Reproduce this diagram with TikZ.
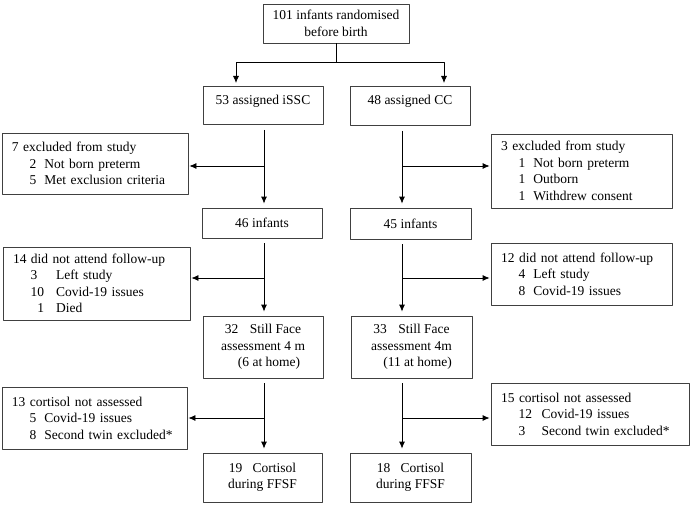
\documentclass[tikz,border=0pt]{standalone}
\usepackage{fontspec}
\setmainfont{Liberation Serif}
\usetikzlibrary{arrows.meta}
\newcommand{\reason}[3][1.1em]{\hspace*{1.3em}\makebox[#1][l]{#2}#3}
\begin{document}
\begin{tikzpicture}[x=1pt,y=-1pt,>={Latex[length=7pt,width=6pt]},line join=round,line width=0.8pt,
	font=\fontsize{13.5}{16.5}\selectfont,
	box/.style={draw=black!75,inner sep=0pt,align=center},
	side/.style={draw=black!75,inner xsep=10pt,inner ysep=0pt,align=left},
	link/.style={->,shorten <=5pt,shorten >=4pt},
	branch/.style={->,shorten >=1pt}]
	\useasboundingbox (0,0) rectangle (693,508);
	\node[box,minimum width=146pt,minimum height=39pt] (rand) at (336,23.5) {101 infants randomised\\before birth};
	\node[box,minimum width=120pt,text height=18pt,text depth=20pt,anchor=north] (issc) at (263,86) {53 assigned iSSC};
	\node[box,minimum width=120pt,text height=18pt,text depth=21pt,anchor=north] (cc) at (410,86) {48 assigned CC};
	\node[box,minimum width=120pt,minimum height=30pt] (inf46) at (262,223) {46 infants};
	\node[box,minimum width=121pt,minimum height=31pt] (inf45) at (410.5,223.5) {45 infants};
	\node[box,minimum width=120pt,minimum height=62pt] (face1) at (263,347) {32\hspace{0.6em} Still Face\\assessment 4 m\\\hspace*{0.9em}(6 at home)};
	\node[box,minimum width=121pt,minimum height=62pt] (face2) at (411.5,347) {33\hspace{0.6em} Still Face\\assessment 4m\\\hspace*{0.9em}(11 at home)};
	\node[box,minimum width=119pt,minimum height=49pt] (cort1) at (262.5,477.5) {19\hspace{0.5em} Cortisol\\during FFSF};
	\node[box,minimum width=121pt,minimum height=49pt] (cort2) at (410.5,477.5) {18\hspace{0.5em} Cortisol\\during FFSF};
	\node[side,text width=166pt,minimum height=61pt] (excl1) at (95,163.5) {7 excluded from study\\\reason{2}{Not born preterm}\\\reason{5}{Met exclusion criteria}};
	\node[side,text width=167pt,minimum height=73pt] (lost1) at (96.5,283.5) {14 did not attend follow-up\\\reason[1.9em]{3}{Left study}\\\reason[1.9em]{10}{Covid-19 issues}\\\reason[1.9em]{\hspace*{0.5em}1}{Died}};
	\node[side,text width=165pt,minimum height=62pt] (miss1) at (94.5,418) {13 cortisol not assessed\\\reason{5}{Covid-19 issues}\\\reason{8}{Second twin excluded*}};
	\node[side,text width=161pt,minimum height=74pt] (excl2) at (581.5,171) {3 excluded from study\\\reason{1}{Not born preterm}\\\reason{1}{Outborn}\\\reason{1}{Withdrew consent}};
	\node[side,text width=161pt,minimum height=62pt] (lost2) at (581.5,274) {12 did not attend follow-up\\\reason{4}{Left study}\\\reason{8}{Covid-19 issues}};
	\node[side,text width=178pt,minimum height=62pt] (miss2) at (590,414) {15 cortisol not assessed\\\reason[1.7em]{12}{Covid-19 issues}\\\reason[1.7em]{3}{Second twin excluded*}};
	\coordinate (splitL) at (236,62);
	\coordinate (splitR) at (444,62);
	\coordinate (colL) at (264,0);
	\coordinate (colR) at (402,0);
	\coordinate (b1) at (0,166);
	\coordinate (b2) at (0,278);
	\coordinate (b3) at (0,418);
	\draw (rand.south) -- (rand.south |- splitL);
	\draw[<->,shorten <=3pt,shorten >=3pt] (splitL |- issc.north) -- (splitL) -- (splitR) -- (splitR |- cc.north);
	\draw[link] (colL |- issc.south) -- (colL |- inf46.north);
	\draw[link] (colL |- inf46.south) -- (colL |- face1.north);
	\draw[link] (colL |- face1.south) -- (colL |- cort1.north);
	\draw[link] (colR |- cc.south) -- (colR |- inf45.north);
	\draw[link] (colR |- inf45.south) -- (colR |- face2.north);
	\draw[link] (colR |- face2.south) -- (colR |- cort2.north);
	\draw[branch] (colL |- b1) -- (excl1.east |- b1);
	\draw[branch] (colL |- b2) -- (lost1.east |- b2);
	\draw[branch] (colL |- b3) -- (miss1.east |- b3);
	\draw[branch] (colR |- b1) -- (excl2.west |- b1);
	\draw[branch] (colR |- b2) -- (lost2.west |- b2);
	\draw[branch] (colR |- b3) -- (miss2.west |- b3);
\end{tikzpicture}
\end{document}
